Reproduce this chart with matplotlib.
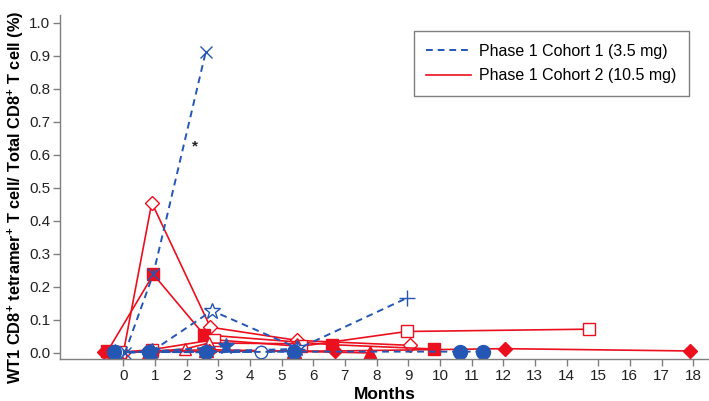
import numpy as np
import matplotlib
matplotlib.use('Agg')
import matplotlib.pyplot as plt
from matplotlib.lines import Line2D

plt.rcParams['font.family'] = ['Liberation Sans', 'DejaVu Sans']
plt.rcParams['mathtext.fontset'] = 'custom'
plt.rcParams['mathtext.rm'] = 'Liberation Sans'
plt.rcParams['mathtext.bf'] = 'Liberation Sans:bold'

# Phase 1 Cohort 1 (3.5 mg) - one list per patient
c1_x_months = [0.05, 0.95, 2.6]
c1_x_vals = [0.0, 0.24, 0.91]
c1_ostar_months = [-0.2, 0.9, 2.8, 5.5]
c1_ostar_vals = [0.0, 0.005, 0.128, 0.015]
c1_plus_months = [-0.2, 0.85, 2.6, 5.5, 8.95]
c1_plus_vals = [0.0, 0.003, 0.005, 0.012, 0.166]
c1_fstar_months = [-0.25, 0.85, 3.25]
c1_fstar_vals = [0.003, 0.004, 0.02]
c1_ocirc_months = [-0.2, 0.8, 2.6, 4.35, 5.4]
c1_ocirc_vals = [0.002, 0.003, 0.003, 0.003, 0.005]
c1_fcirc_months = [-0.3, 0.8, 2.6, 5.4, 10.65, 11.35]
c1_fcirc_vals = [0.003, 0.003, 0.002, 0.004, 0.004, 0.004]

# Phase 1 Cohort 2 (10.5 mg)
c2_odiam_months = [0.0, 0.9, 2.75, 5.5, 9.05]
c2_odiam_vals = [0.0, 0.455, 0.078, 0.038, 0.023]
c2_fsq_months = [-0.5, 0.95, 2.55, 6.6, 9.8]
c2_fsq_vals = [0.005, 0.238, 0.055, 0.025, 0.012]
c2_osq_months = [-0.1, 0.9, 2.85, 5.6, 8.95, 14.7]
c2_osq_vals = [0.002, 0.01, 0.04, 0.02, 0.065, 0.072]
c2_otri_months = [-0.2, 0.9, 1.95, 2.7, 5.5]
c2_otri_vals = [0.002, 0.005, 0.012, 0.03, 0.028]
c2_ftri_months = [-0.3, 0.8, 2.6, 5.4, 7.8]
c2_ftri_vals = [0.002, 0.003, 0.01, 0.005, 0.0]
c2_fdiam_months = [-0.6, 0.9, 2.7, 6.7, 12.05, 17.9]
c2_fdiam_vals = [0.003, 0.004, 0.005, 0.006, 0.013, 0.006]

blue = '#2456b4'
red = '#ec0f1e'
grey = '#7f7f7f'
dash = (3.5, 2.5)

fig = plt.figure(figsize=(7.09, 4.01), dpi=100)
ax = fig.add_axes([0.0846, 0.105, 0.9154, 0.858])

cohort1 = [
	(c1_x_months, c1_x_vals, 'x', 8, blue),
	(c1_ostar_months, c1_ostar_vals, '*', 12, 'white'),
	(c1_plus_months, c1_plus_vals, '+', 11, blue),
	(c1_fstar_months, c1_fstar_vals, '*', 12, blue),
	(c1_ocirc_months, c1_ocirc_vals, 'o', 9, 'white'),
	(c1_fcirc_months, c1_fcirc_vals, 'o', 10, blue),
]
cohort2 = [
	(c2_odiam_months, c2_odiam_vals, 'D', 7, 'white'),
	(c2_fsq_months, c2_fsq_vals, 's', 9, red),
	(c2_osq_months, c2_osq_vals, 's', 9, 'white'),
	(c2_otri_months, c2_otri_vals, '^', 8, 'white'),
	(c2_ftri_months, c2_ftri_vals, '^', 10, red),
	(c2_fdiam_months, c2_fdiam_vals, 'D', 7, red),
]

for m, v, mk, ms, fc in cohort2:
	ax.plot(m, v, color=red, lw=1.2, marker=mk, ms=ms, mfc=fc, mec=red, mew=1.0)
for m, v, mk, ms, fc in cohort1:
	ax.plot(m, v, color=blue, lw=1.4, ls=(0, dash), marker=mk, ms=ms, mfc=fc, mec=blue, mew=1.0)

ax.text(2.27, 0.625, '*', fontsize=11, fontweight='bold', ha='center', va='center', color='#222222')

ax.set_xlim(-2.0, 18.5)
ax.set_ylim(-0.018, 1.024)
ax.set_xticks(np.arange(0, 19))
ax.set_yticks(np.arange(0, 1.01, 0.1))
ax.set_yticklabels([f'{t:.1f}' for t in np.arange(0, 1.01, 0.1)])

for s in ['top', 'right']:
	ax.spines[s].set_visible(False)
for s in ['left', 'bottom']:
	ax.spines[s].set_color(grey)
	ax.spines[s].set_linewidth(1.0)
ax.tick_params(colors=grey, labelcolor='#222222', labelsize=11, length=5, width=1.0, pad=2)

ax.set_xlabel('Months', fontsize=12.5, fontweight='bold', labelpad=3)
ax.set_ylabel(r'WT1 CD8$^{\mathbf{+}}$ tetramer$^{\mathbf{+}}$ T cell/ Total CD8$^{\mathbf{+}}$ T cell (%)',
	fontsize=11.8, fontweight='bold')
ax.yaxis.set_label_coords(-0.052, 0.47)

handles = [
	Line2D([], [], color=blue, lw=1.4, ls=(0, dash)),
	Line2D([], [], color=red, lw=1.2),
]
leg = ax.legend(handles, ['Phase 1 Cohort 1 (3.5 mg)', 'Phase 1 Cohort 2 (10.5 mg)'],
	loc='upper right', bbox_to_anchor=(0.972, 0.923), bbox_transform=fig.transFigure,
	borderaxespad=0, fancybox=False, framealpha=1, edgecolor=grey, fontsize=11.5,
	handlelength=2.8, handletextpad=0.5, borderpad=0.8, labelspacing=0.6)
leg.get_frame().set_linewidth(1.0)

fig.savefig('out.png', dpi=100)
